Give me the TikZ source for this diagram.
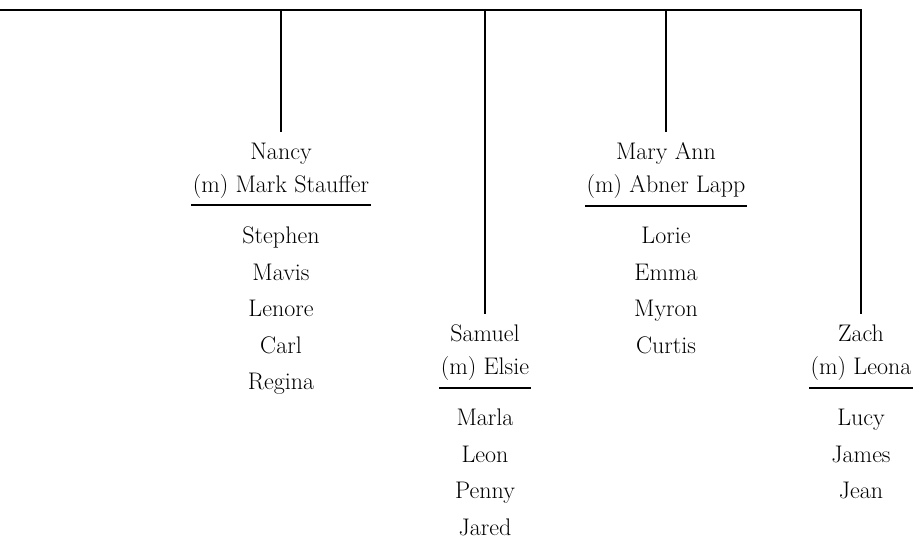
\documentclass[tikz,border=0pt]{standalone}
\usepackage{fontspec}
\usetikzlibrary{
    positioning
}

\tikzset{
    couple/.style={
        align=center,
        inner xsep=1pt,
        inner ysep=0pt,
        font=\fontsize{18}{24.75}\selectfont
    },
    children/.style={
        align=center,
        inner sep=0pt,
        font=\fontsize{18}{27.4}\selectfont
    },
    line/.style={line width=1.5pt}
}

\begin{document}
\begin{tikzpicture}[x=0.75pt, y=-0.75pt]

    \useasboundingbox (0, 0) rectangle (924, 548);

    \coordinate (top-left) at (0, 10);
    \coordinate (nancy-in) at (281, 132);
    \coordinate (samuel-in) at (485, 314);
    \coordinate (maryann-in) at (666, 132);
    \coordinate (zach-in) at (861, 314);

    % couples
    \node[couple, below=8pt of nancy-in] (nancy) {Nancy\\(m) Mark Stauffer};
    \node[couple, below=8pt of samuel-in] (samuel) {Samuel\\(m) Elsie};
    \node[couple, below=8pt of maryann-in] (maryann) {Mary Ann\\(m) Abner Lapp};
    \node[couple, below=8pt of zach-in] (zach) {Zach\\(m) Leona};

    \coordinate[below=5pt of nancy.south] (nancy-rule);
    \coordinate[below=5pt of samuel.south] (samuel-rule);
    \coordinate[below=5pt of maryann.south] (maryann-rule);
    \coordinate[below=5pt of zach.south] (zach-rule);

    \draw[line] (nancy-rule -| nancy.west) -- (nancy-rule -| nancy.east);
    \draw[line] (samuel-rule -| samuel.west) -- (samuel-rule -| samuel.east);
    \draw[line] (maryann-rule -| maryann.west) -- (maryann-rule -| maryann.east);
    \draw[line] (zach-rule -| zach.west) -- (zach-rule -| zach.east);

    % children
    \node[children, below=16pt of nancy-rule] (nancy-kids) {Stephen\\Mavis\\Lenore\\Carl\\Regina};
    \node[children, below=16pt of samuel-rule] (samuel-kids) {Marla\\Leon\\Penny\\Jared};
    \node[children, below=16pt of maryann-rule] (maryann-kids) {Lorie\\Emma\\Myron\\Curtis};
    \node[children, below=16pt of zach-rule] (zach-kids) {Lucy\\James\\Jean};

    % tree lines
    \draw[line] (top-left) -| (zach-in);
    \draw[line] (nancy-in |- top-left) -- (nancy-in);
    \draw[line] (samuel-in |- top-left) -- (samuel-in);
    \draw[line] (maryann-in |- top-left) -- (maryann-in);

\end{tikzpicture}
\end{document}
